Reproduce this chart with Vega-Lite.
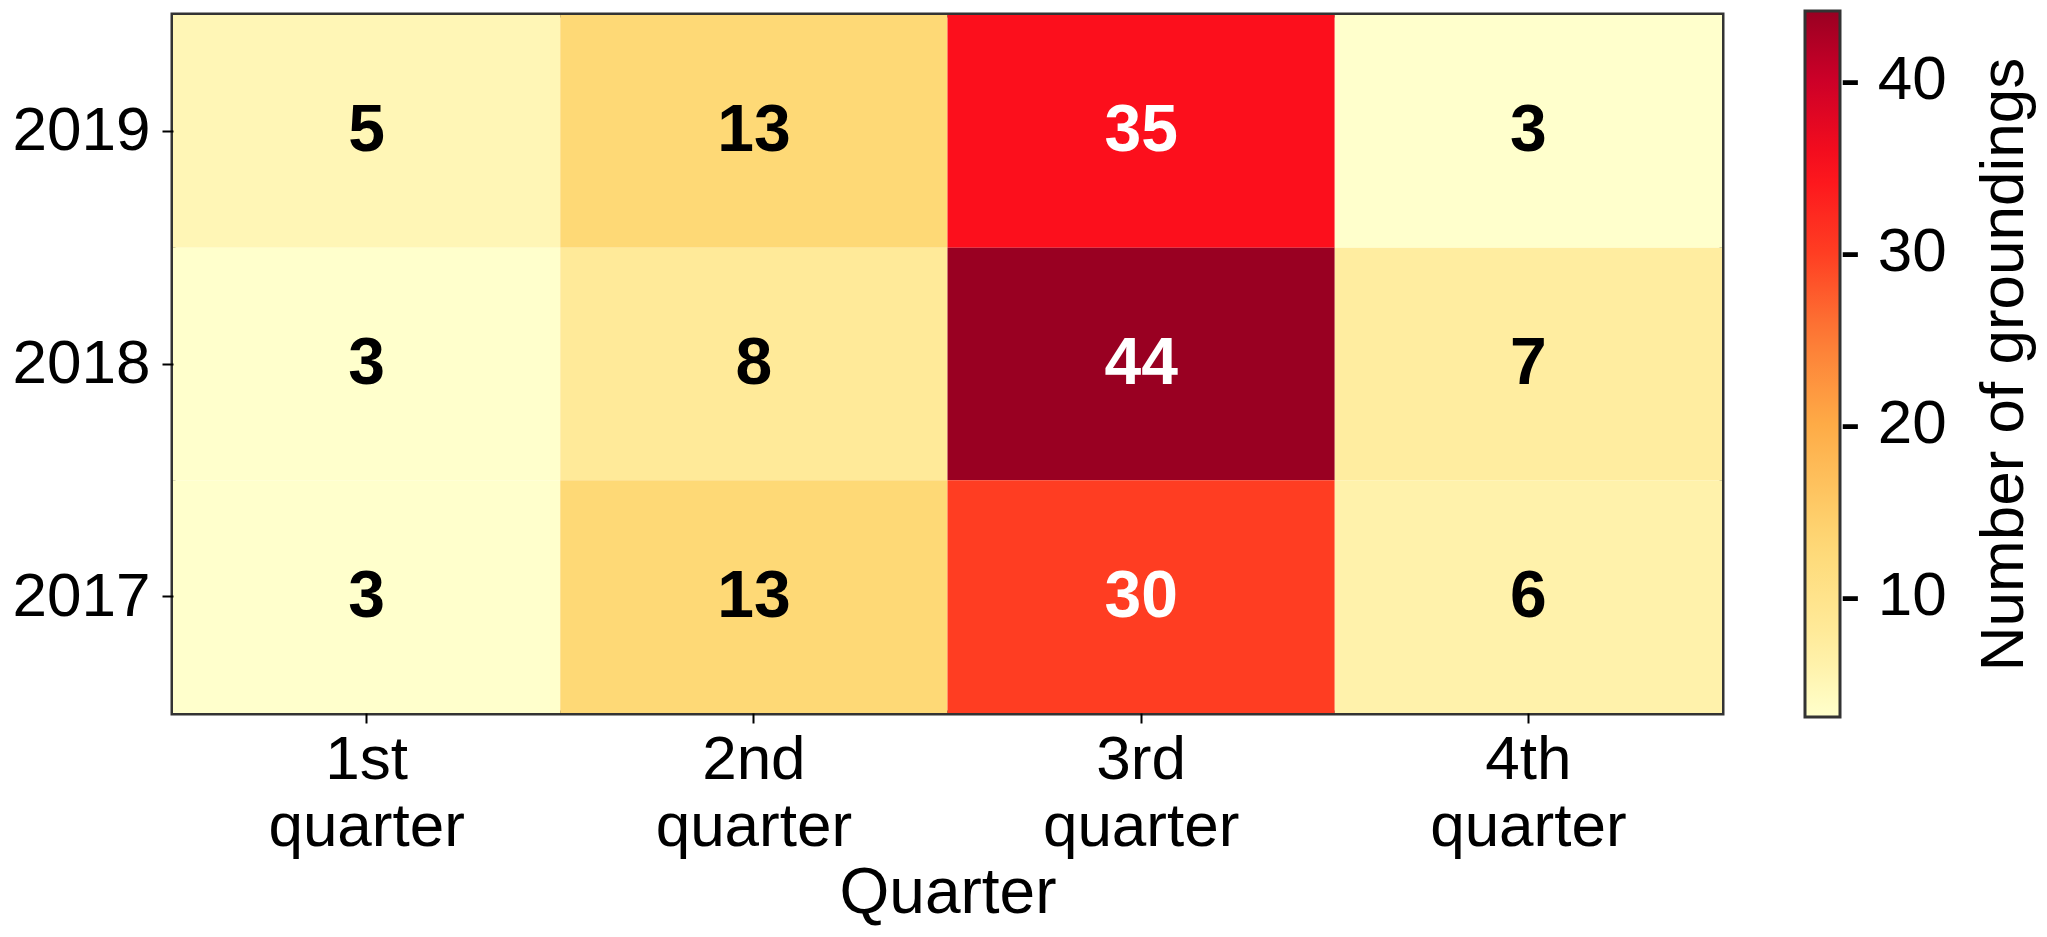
{
  "$schema": "https://vega.github.io/schema/vega-lite/v6.json",
  "width": 1549,
  "height": 698,
  "autosize": {"type": "none"},
  "padding": {"left": 173, "top": 15, "right": 325, "bottom": 224},
  "background": "white",
  "config": {
    "font": "Liberation Sans",
    "view": {"stroke": "#333333", "strokeWidth": 5}
  },
  "data": {
    "values": [
      {"year": 2019, "quarter": "1st quarter", "count": 5},
      {"year": 2019, "quarter": "2nd quarter", "count": 13},
      {"year": 2019, "quarter": "3rd quarter", "count": 35},
      {"year": 2019, "quarter": "4th quarter", "count": 3},
      {"year": 2018, "quarter": "1st quarter", "count": 3},
      {"year": 2018, "quarter": "2nd quarter", "count": 8},
      {"year": 2018, "quarter": "3rd quarter", "count": 44},
      {"year": 2018, "quarter": "4th quarter", "count": 7},
      {"year": 2017, "quarter": "1st quarter", "count": 3},
      {"year": 2017, "quarter": "2nd quarter", "count": 13},
      {"year": 2017, "quarter": "3rd quarter", "count": 30},
      {"year": 2017, "quarter": "4th quarter", "count": 6}
    ]
  },
  "encoding": {
    "x": {
      "field": "quarter",
      "type": "nominal",
      "sort": ["1st quarter", "2nd quarter", "3rd quarter", "4th quarter"],
      "title": "Quarter",
      "axis": {
        "labelAngle": 0,
        "labelFontSize": 62,
        "labelColor": "black",
        "labelExpr": "split(datum.label, ' ')",
        "labelLineHeight": 67,
        "labelBaseline": "top",
        "labelLimit": 400,
        "labelPadding": 6,
        "tickSize": 10,
        "tickWidth": 2,
        "tickColor": "black",
        "domain": false,
        "titleFontSize": 64,
        "titleFontWeight": "normal",
        "titleColor": "black",
        "titlePadding": 4
      }
    },
    "y": {
      "field": "year",
      "type": "ordinal",
      "sort": "descending",
      "title": "Number of groundings",
      "axis": {
        "labelFontSize": 62,
        "labelColor": "black",
        "labelPadding": 12,
        "tickSize": 11,
        "tickWidth": 2,
        "tickColor": "black",
        "domain": false,
        "titleAngle": 270,
        "titleX": 1800,
        "titleY": 349,
        "titleAlign": "center",
        "titleBaseline": "top",
        "titleFontSize": 62,
        "titleFontWeight": "normal",
        "titleColor": "black"
      }
    }
  },
  "layer": [
    {
      "mark": "rect",
      "encoding": {
        "color": {
          "field": "count",
          "type": "quantitative",
          "scale": {
            "domain": [3, 7, 13, 20, 25, 30, 35, 40, 44],
            "range": ["#ffffcc", "#ffeda0", "#fed976", "#feab46", "#fd7c36", "#ff3d22", "#fc0f1c", "#cc0028", "#990022"],
            "interpolate": "rgb"
          },
          "legend": {
            "title": null,
            "orient": "none",
            "legendX": 1632,
            "legendY": -4,
            "direction": "vertical",
            "padding": 0,
            "gradientLength": 706,
            "gradientThickness": 35,
            "gradientStrokeColor": "#333333",
            "gradientStrokeWidth": 3,
            "values": [10, 20, 30, 40],
            "labelFontSize": 62,
            "labelColor": "black",
            "labelExpr": "'- ' + datum.label",
            "labelOffset": 0
          }
        }
      }
    },
    {
      "mark": {"type": "text", "fontSize": 66, "fontWeight": "bold"},
      "encoding": {
        "text": {"field": "count", "type": "quantitative"},
        "color": {
          "condition": {"test": "datum.count > 25", "value": "white"},
          "value": "black"
        }
      }
    }
  ]
}
